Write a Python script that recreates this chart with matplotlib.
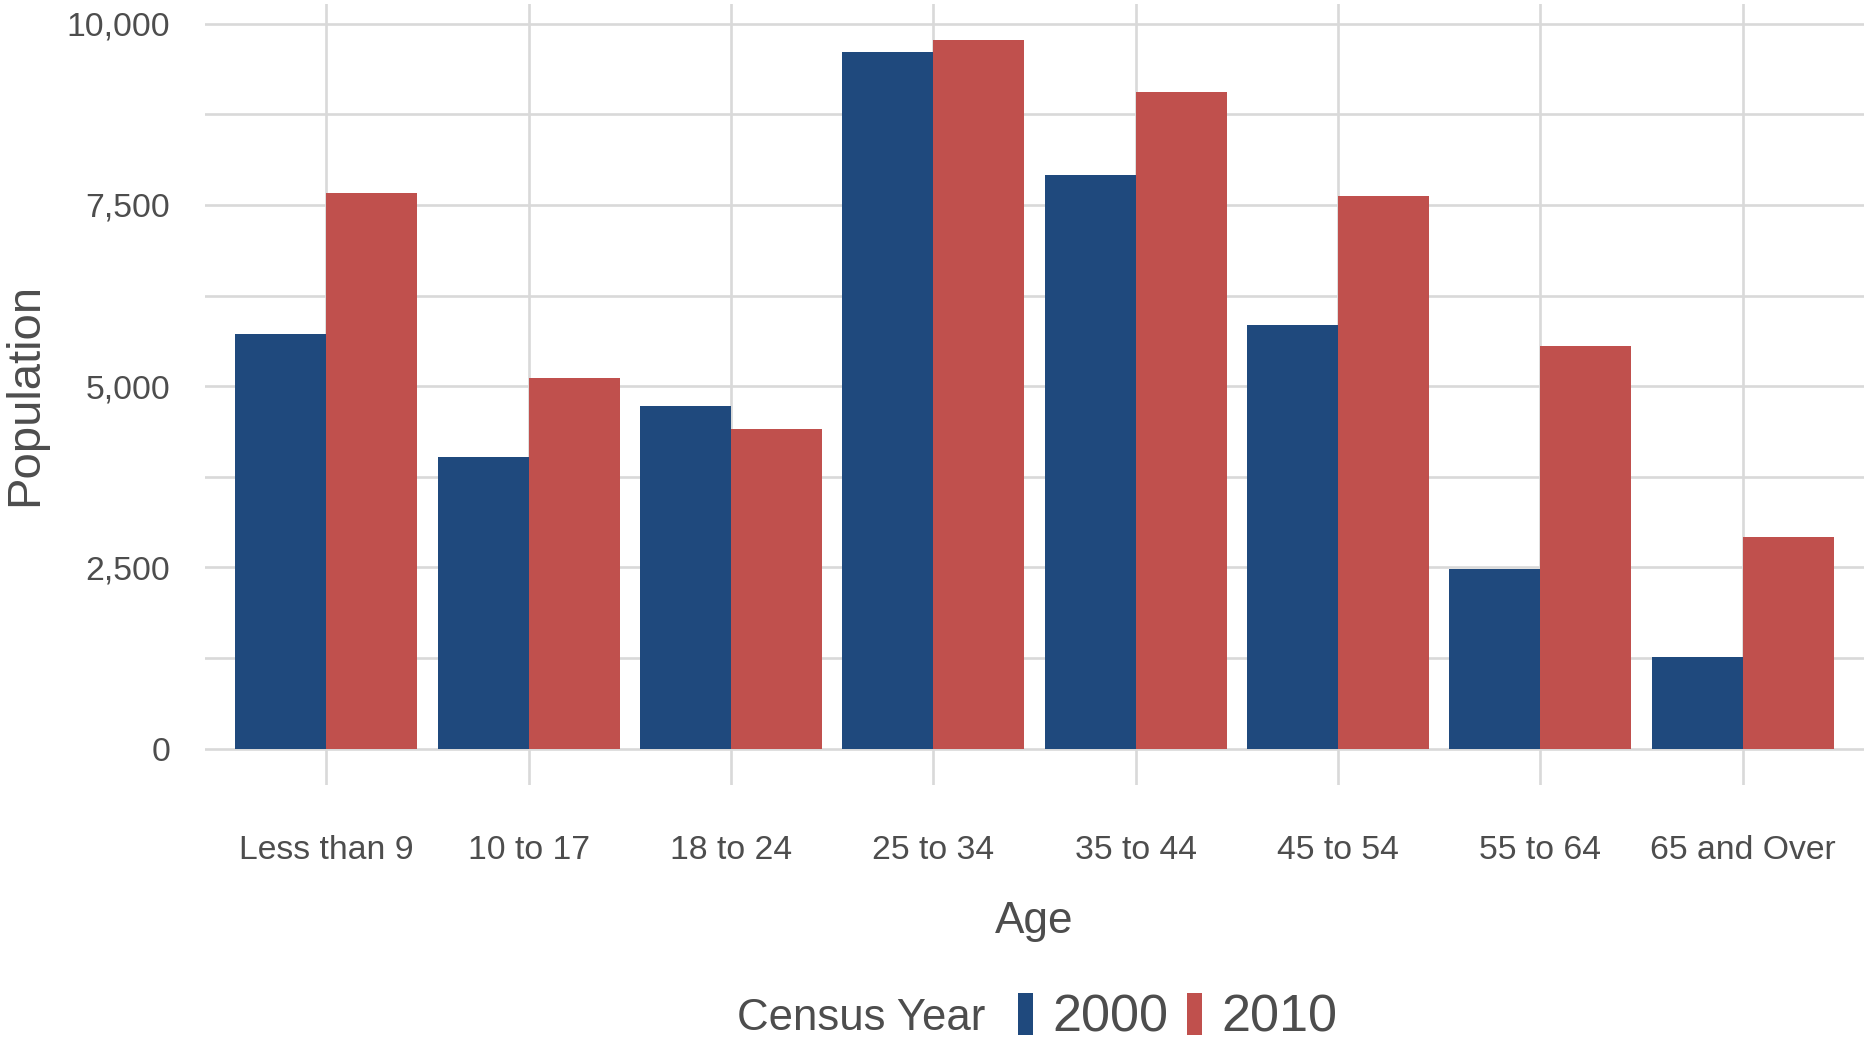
import matplotlib
matplotlib.use('Agg')
import matplotlib.pyplot as plt
from matplotlib.patches import Patch
from matplotlib.ticker import FuncFormatter, MultipleLocator
import numpy as np

# Data
age_groups = ['Less than 9', '10 to 17', '18 to 24', '25 to 34',
              '35 to 44', '45 to 54', '55 to 64', '65 and Over']
pop_2000 = [5720, 4030, 4720, 9610, 7915, 5840, 2475, 1262]
pop_2010 = [7660, 5115, 4410, 9775, 9050, 7625, 5560, 2920]
years = ['2000', '2010']
y_ticks = [0, 2500, 5000, 7500, 10000]

blue = '#1F497D'
red = '#C0504D'
grid_col = '#D9D9D9'
text_col = '#4D4D4D'

plt.rcParams['font.family'] = ['Liberation Sans', 'DejaVu Sans']

fig = plt.figure(figsize=(18.64, 10.42), dpi=100)
ax = fig.add_axes([205 / 1864, 1 - 785 / 1042, 1 - 205 / 1864, 781 / 1042])

x = np.arange(len(age_groups))
w = 0.45
ax.bar(x - w / 2, pop_2000, width=w, color=blue, zorder=3)
ax.bar(x + w / 2, pop_2010, width=w, color=red, zorder=3)

ax.set_xlim(-0.6, len(age_groups) - 0.4)
ax.set_ylim(-500, 10270)
ax.set_xticks(x)
ax.set_xticklabels(age_groups)
ax.set_yticks(y_ticks)
ax.yaxis.set_minor_locator(MultipleLocator(1250))
ax.yaxis.set_major_formatter(FuncFormatter(lambda v, p: f'{int(v):,}'))

ax.grid(True, which='major', axis='both', color=grid_col, lw=1.9, zorder=0)
ax.grid(True, which='minor', axis='y', color=grid_col, lw=1.9, zorder=0)
for s in ax.spines.values():
    s.set_visible(False)
ax.tick_params(axis='both', which='both', length=0, colors=text_col,
               labelsize=24.3)
ax.tick_params(axis='x', pad=36)
ax.tick_params(axis='y', pad=25)

ax.set_xlabel('Age', fontsize=31.8, color=text_col, labelpad=25)
ax.set_ylabel('Population', fontsize=34, color=text_col, labelpad=14)

# legend: title on the left, keys in one row
fig.text(985 / 1864, 1 - 1018 / 1042, 'Census Year', ha='right', va='center',
         fontsize=31.5, color=text_col)
handles = [Patch(facecolor=blue), Patch(facecolor=red)]
fig.legend(handles, years, loc='center left',
           bbox_to_anchor=(1018 / 1864, 1 - 1018 / 1042), ncol=2,
           frameon=False, fontsize=37.6, handlelength=0.28, handleheight=0.85,
           handletextpad=0.38, columnspacing=0.36, borderpad=0, borderaxespad=0,
           labelcolor=text_col)

fig.savefig('out.png', dpi=100)
